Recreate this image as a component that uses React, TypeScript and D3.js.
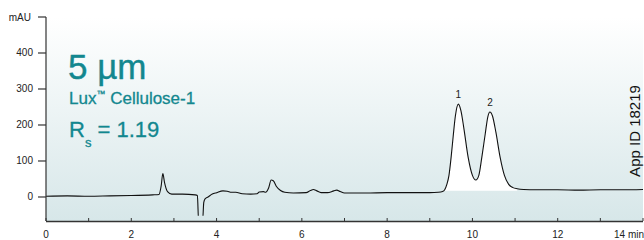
import React from 'react';
import * as d3 from 'd3';

const WIDTH = 644;
const HEIGHT = 240;

const MARGIN = { top: 17, right: 1, bottom: 19, left: 46 };

// retention time (min)
const times = [
  0, 0.5, 1, 1.5, 2, 2.5, 2.65, 2.7, 2.74, 2.78, 2.85, 2.95, 3.2, 3.5, 3.55, 3.58, 3.67, 3.7, 3.73, 3.8,
  3.9, 4.0, 4.15, 4.25, 4.35, 4.45, 4.6, 4.8, 4.95, 5.0, 5.1, 5.15, 5.22, 5.28, 5.33, 5.4, 5.5, 5.6, 5.8,
  6.1, 6.2, 6.27, 6.35, 6.45, 6.6, 6.75, 6.82, 6.9, 7.0, 7.5, 8.0, 8.5, 9.0, 9.2, 9.3, 9.35, 9.4, 9.45,
  9.5, 9.55, 9.6, 9.67, 9.73, 9.8, 9.9, 10.0, 10.08, 10.15, 10.22, 10.3, 10.36, 10.41, 10.47, 10.55,
  10.65, 10.75, 10.85, 10.95, 11.05, 11.2, 11.5, 12, 12.5, 13, 13.5, 14,
];
// absorbance (mAU)
const signal = [
  2, 3, 2, 3, 4, 6, 7, 30, 65, 40, 15, 8, 8, 6, 4, -70, -70, -15, -5, 0,
  8, 12, 17, 16, 13, 13, 9, 8, 9, 14, 15, 13, 25, 47, 45, 30, 18, 13, 11,
  12, 18, 21, 17, 12, 12, 17, 19, 15, 11, 11, 12, 12, 12, 13, 15, 20, 35, 60,
  110, 170, 225, 258, 240, 190, 110, 60, 47, 60, 110, 175, 222, 236, 225, 180,
  110, 60, 35, 26, 23, 21, 20, 20, 19, 20, 20, 21,
];

const peakLabels = [
  { name: '1', t: 9.67 },
  { name: '2', t: 10.41 },
];

const yTicks = [0, 100, 200, 300, 400];
const xTicks = [0, 1, 2, 3, 4, 5, 6, 7, 8, 9, 10, 11, 12, 13, 14];
const xLabels = [0, 2, 4, 6, 8, 10, 12, 14];

const TEAL = '#12878f';
const FONT = '"Liberation Sans", Arial, Helvetica, sans-serif';

const App = () => {
  const width = WIDTH - MARGIN.left - MARGIN.right;
  const height = HEIGHT - MARGIN.top - MARGIN.bottom;

  const x = d3.scaleLinear().domain([0, 14]).range([MARGIN.left, MARGIN.left + width]);
  const y = d3.scaleLinear().domain([-66.7, 500]).range([MARGIN.top + height, MARGIN.top]);

  const points: [number, number][] = times.map((t, i) => [t, signal[i]]);

  const line = d3
    .line<[number, number]>()
    .x((d) => x(d[0]))
    .y((d) => y(d[1]))
    .curve(d3.curveMonotoneX);

  // white fill under the two enantiomer peaks
  const peakPts = points.filter((d) => d[0] >= 9.3 && d[0] <= 11.05);
  const area = d3
    .area<[number, number]>()
    .x((d) => x(d[0]))
    .y0(y(17))
    .y1((d) => y(Math.max(d[1], 17)))
    .curve(d3.curveMonotoneX);

  const bottom = MARGIN.top + height;

  return (
    <svg
      width={WIDTH}
      height={HEIGHT}
      viewBox={`0 0 ${WIDTH} ${HEIGHT}`}
      style={{ position: 'absolute', left: 0, top: 0 }}
      fontFamily={FONT}
    >
      <defs>
        <linearGradient id="bg" x1="0" y1="0" x2="0" y2="1">
          <stop offset="0%" stopColor="#ffffff" />
          <stop offset="100%" stopColor="#d7e7e9" />
        </linearGradient>
        <clipPath id="cut-off">
          <rect x={MARGIN.left} y={MARGIN.top} width={width} height={y(-52) - MARGIN.top} />
        </clipPath>
      </defs>

      <rect x={MARGIN.left} y={MARGIN.top} width={width} height={height} fill="url(#bg)" />

      <path d={area(peakPts) as string} fill="#fff" />
      <g clipPath="url(#cut-off)">
        <path d={line(points) as string} fill="none" stroke="#111" strokeWidth={1.1} />
      </g>

      {peakLabels.map((p) => {
        const i = times.indexOf(p.t);
        return (
          <text key={p.name} x={x(p.t)} y={y(signal[i]) - 6} fontSize={10} textAnchor="middle" fill="#222">
            {p.name}
          </text>
        );
      })}

      {/* y axis */}
      <line x1={MARGIN.left} x2={MARGIN.left} y1={MARGIN.top} y2={bottom} stroke="#333" strokeWidth={1.2} />
      {yTicks.map((t) => (
        <g key={t}>
          <line x1={MARGIN.left - 8} x2={MARGIN.left} y1={y(t)} y2={y(t)} stroke="#333" strokeWidth={1.2} />
          <text x={MARGIN.left - 13} y={y(t)} dy="0.35em" fontSize={10} textAnchor="end" fill="#222">
            {t}
          </text>
        </g>
      ))}
      <line x1={MARGIN.left - 8} x2={MARGIN.left} y1={y(500)} y2={y(500)} stroke="#333" strokeWidth={1.2} />
      <text x={MARGIN.left - 15} y={y(500)} dy="0.35em" fontSize={10} textAnchor="end" fill="#222">
        mAU
      </text>

      {/* x axis */}
      <line x1={MARGIN.left} x2={MARGIN.left + width} y1={bottom + 0.5} y2={bottom + 0.5} stroke="#333" strokeWidth={1.5} />
      {xTicks.map((t) => (
        <line key={t} x1={x(t)} x2={x(t)} y1={bottom} y2={bottom - 3} stroke="#333" strokeWidth={1} />
      ))}
      {xLabels.map((t) => (
        <text
          key={t}
          x={t === 14 ? WIDTH : x(t)}
          y={238}
          fontSize={10}
          textAnchor={t === 14 ? 'end' : 'middle'}
          fill="#222"
        >
          {t === 14 ? '14 min' : t}
        </text>
      ))}

      {/* annotation */}
      <text x={68} y={79} fontSize={35} fill={TEAL} stroke={TEAL} strokeWidth={0.4}>
        5 µm
      </text>
      <text x={69} y={104} fontSize={17} fill={TEAL} stroke={TEAL} strokeWidth={0.3}>
        Lux
        <tspan fontSize={9} dy={-7}>™</tspan>
        <tspan dy={7}> Cellulose-1</tspan>
      </text>
      <text x={69} y={137} fontSize={22} fill={TEAL} stroke={TEAL} strokeWidth={0.3}>
        R
        <tspan fontSize={13} dy={10}>s</tspan>
        <tspan dy={-10}> = 1.19</tspan>
      </text>

      <text
        transform={`translate(${640}, ${131}) rotate(-90)`}
        fontSize={15}
        textAnchor="middle"
        fill="#111"
      >
        App ID 18219
      </text>
    </svg>
  );
};

export default App;
